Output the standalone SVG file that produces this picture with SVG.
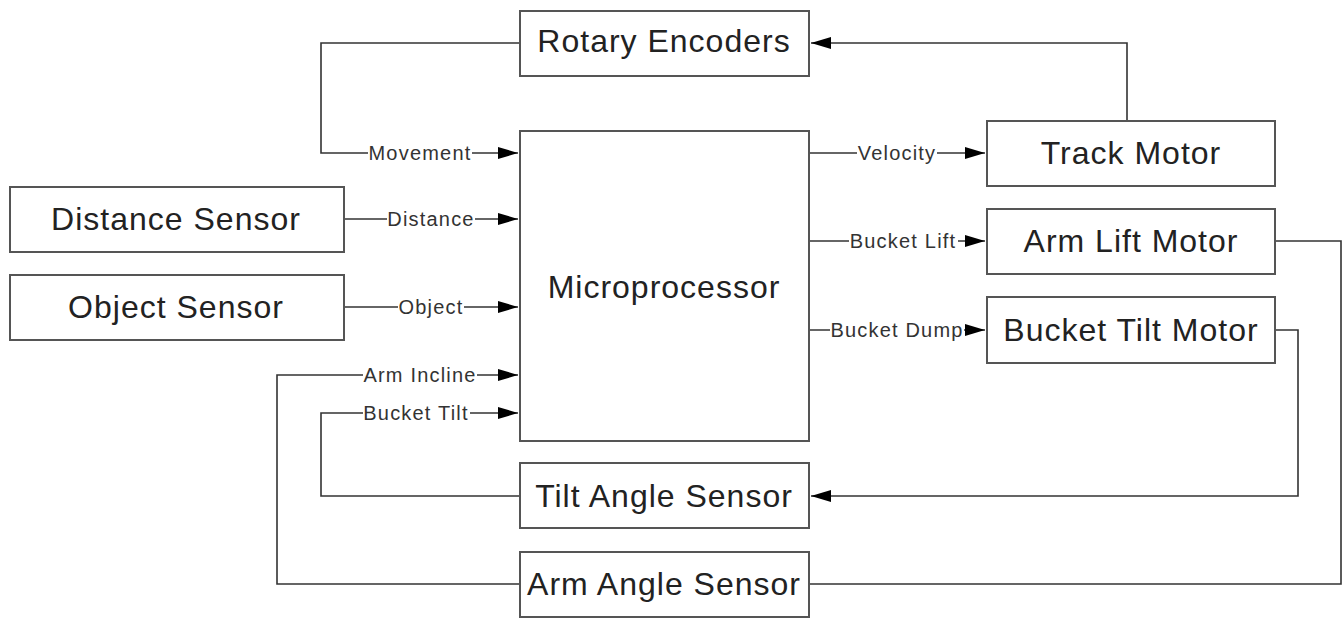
<svg xmlns="http://www.w3.org/2000/svg" width="1343" height="620" viewBox="0 0 1343 620">
<style>
.box{fill:#fff;stroke:#555;stroke-width:2}
.nt{font-family:"Liberation Sans",Arial,sans-serif;font-size:32px;letter-spacing:1px;fill:#222;text-anchor:middle}
.ln{fill:none;stroke:#333;stroke-width:1.6}
.lb{font-family:"Liberation Sans",Arial,sans-serif;font-size:20px;letter-spacing:1.2px;fill:#333;text-anchor:middle}
.bg{fill:#fff}
</style>
<defs>
<marker id="ah" viewBox="0 0 20 12" refX="20" refY="6" markerWidth="20" markerHeight="12" markerUnits="userSpaceOnUse" orient="auto">
<path d="M0,0 L20,6 L0,12 Z" fill="#000"/>
</marker>
</defs>
<rect width="1343" height="620" fill="#fff"/>
<g id="connectors">
<path class="ln" d="M520,43 H321 V153 H518" marker-end="url(#ah)"/>
<path class="ln" d="M1127,121 V43 H811" marker-end="url(#ah)"/>
<path class="ln" d="M344,219 H518" marker-end="url(#ah)"/>
<path class="ln" d="M344,307 H518" marker-end="url(#ah)"/>
<path class="ln" d="M520,584 H277 V375 H518" marker-end="url(#ah)"/>
<path class="ln" d="M520,496 H321 V413 H518" marker-end="url(#ah)"/>
<path class="ln" d="M809,153 H985" marker-end="url(#ah)"/>
<path class="ln" d="M809,241 H985" marker-end="url(#ah)"/>
<path class="ln" d="M809,330 H985" marker-end="url(#ah)"/>
<path class="ln" d="M1275,241 H1341 V584 H809"/>
<path class="ln" d="M1275,330 H1298 V496 H811" marker-end="url(#ah)"/>
<rect class="bg" x="368" y="150" width="104" height="6"/>
<rect class="bg" x="387" y="216" width="88" height="6"/>
<rect class="bg" x="398" y="304" width="66" height="6"/>
<rect class="bg" x="363" y="372" width="114" height="6"/>
<rect class="bg" x="363" y="410" width="107" height="6"/>
<rect class="bg" x="857" y="150" width="80" height="6"/>
<rect class="bg" x="849" y="238" width="109" height="6"/>
<rect class="bg" x="830" y="327" width="134" height="6"/>
<text class="lb" x="420" y="160">Movement</text>
<text class="lb" x="431" y="226">Distance</text>
<text class="lb" x="431" y="314">Object</text>
<text class="lb" x="420" y="382">Arm Incline</text>
<text class="lb" x="416" y="420">Bucket Tilt</text>
<text class="lb" x="897" y="160">Velocity</text>
<text class="lb" x="903" y="248">Bucket Lift</text>
<text class="lb" x="897" y="337">Bucket Dump</text>
</g>
<g id="rotary"><rect class="box" x="520" y="11" width="289" height="65"/><text class="nt" x="664" y="52">Rotary Encoders</text></g>
<g id="micro"><rect class="box" x="520" y="131" width="289" height="310"/><text class="nt" x="664" y="298">Microprocessor</text></g>
<g id="distance"><rect class="box" x="10" y="187" width="334" height="65"/><text class="nt" x="176" y="230">Distance Sensor</text></g>
<g id="object"><rect class="box" x="10" y="275" width="334" height="65"/><text class="nt" x="176" y="318">Object Sensor</text></g>
<g id="track"><rect class="box" x="987" y="121" width="288" height="65"/><text class="nt" x="1131" y="164">Track Motor</text></g>
<g id="armlift"><rect class="box" x="987" y="209" width="288" height="65"/><text class="nt" x="1131" y="252">Arm Lift Motor</text></g>
<g id="buckettilt"><rect class="box" x="987" y="297" width="288" height="66"/><text class="nt" x="1131" y="341">Bucket Tilt Motor</text></g>
<g id="tilt"><rect class="box" x="520" y="463" width="289" height="65"/><text class="nt" x="664" y="507">Tilt Angle Sensor</text></g>
<g id="armangle"><rect class="box" x="520" y="552" width="289" height="65"/><text class="nt" x="664" y="595">Arm Angle Sensor</text></g>
</svg>
